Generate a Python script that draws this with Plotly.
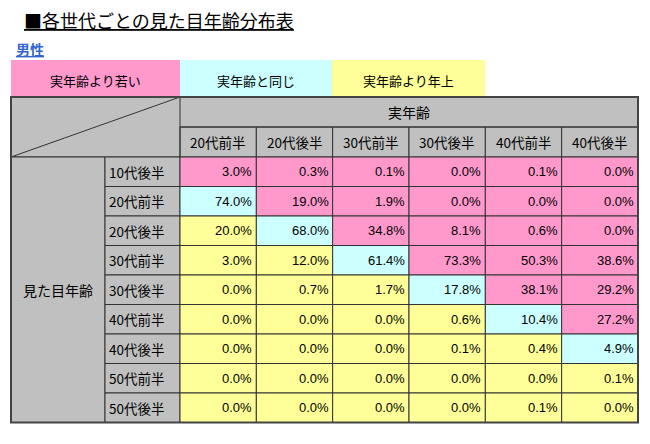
import plotly.graph_objects as go

# ---------------- data ----------------
title_text = "■各世代ごとの見た目年齢分布表"
subtitle_text = "男性"
legend_labels = ["実年齢より若い", "実年齢と同じ", "実年齢より年上"]
actual_age_header = "実年齢"
apparent_age_header = "見た目年齢"
actual_ages = ["20代前半", "20代後半", "30代前半", "30代後半", "40代前半", "40代後半"]
apparent_ages = ["10代後半", "20代前半", "20代後半", "30代前半", "30代後半",
                 "40代前半", "40代後半", "50代前半", "50代後半"]
# rows = apparent age, columns = actual age (percent)
values = [
    [3.0, 0.3, 0.1, 0.0, 0.1, 0.0],
    [74.0, 19.0, 1.9, 0.0, 0.0, 0.0],
    [20.0, 68.0, 34.8, 8.1, 0.6, 0.0],
    [3.0, 12.0, 61.4, 73.3, 50.3, 38.6],
    [0.0, 0.7, 1.7, 17.8, 38.1, 29.2],
    [0.0, 0.0, 0.0, 0.6, 10.4, 27.2],
    [0.0, 0.0, 0.0, 0.1, 0.4, 4.9],
    [0.0, 0.0, 0.0, 0.0, 0.0, 0.1],
    [0.0, 0.0, 0.0, 0.0, 0.1, 0.0],
]

# ---------------- style / layout ----------------
W, H = 650, 444
OFF = 8  # page body margin compensation
PINK, CYAN, YELLOW, GRAY = "#FF99CC", "#CCFFFF", "#FFFF99", "#C0C0C0"
LEG_COLORS = [PINK, CYAN, YELLOW]
LINE = "#333333"
JP = "Noto Sans CJK JP"
NUMF = "Liberation Sans, Arial, Noto Sans CJK JP"

LEG_EDGES = [11, 180, 332, 485]
LEG_TOP, LEG_BOT = 60, 97
X_LEFT, X_ROWLAB, X_DATA0 = 11, 105, 180
COL_W = (638 - 180) / 6
T_TOP, HDR1, HDR2 = 97, 127, 157
ROW_H = (422.5 - 157) / 9

col_edges = [X_DATA0 + COL_W * j for j in range(len(actual_ages) + 1)]
row_edges = [HDR2 + ROW_H * i for i in range(len(apparent_ages) + 1)]
X_RIGHT = col_edges[-1]
Y_BOT = row_edges[-1]

shapes = []
annots = []


def rect(x0, y0, x1, y1, fill, lw=1, lc=LINE):
    shapes.append(dict(type="rect", xref="x", yref="y", x0=x0, y0=y0, x1=x1, y1=y1,
                       fillcolor=fill, line=dict(color=lc, width=lw), layer="below"))


def line(x0, y0, x1, y1, lw=1, lc=LINE):
    shapes.append(dict(type="line", xref="x", yref="y", x0=x0, y0=y0, x1=x1, y1=y1,
                       line=dict(color=lc, width=lw)))


def text(x, y, s, size=13, anchor="center", fam=JP, color="black"):
    annots.append(dict(x=x, y=y, xref="x", yref="y", text=s, showarrow=False,
                       xanchor=anchor, yanchor="middle",
                       font=dict(family=fam, size=size, color=color)))


# title / subtitle
text(22, 20, "<u>" + title_text + "</u>", size=18, anchor="left")
text(14, 49, "<u><b>" + subtitle_text + "</b></u>", size=14, anchor="left", color="#3366CC")

# legend boxes
for k, lab in enumerate(legend_labels):
    rect(LEG_EDGES[k], LEG_TOP, LEG_EDGES[k + 1], LEG_BOT, LEG_COLORS[k], lw=0, lc=LEG_COLORS[k])
    text((LEG_EDGES[k] + LEG_EDGES[k + 1]) / 2, 80, lab, size=13)

# gray header areas
rect(X_LEFT, T_TOP, X_RIGHT, HDR2, GRAY)
rect(X_LEFT, HDR2, X_ROWLAB, Y_BOT, GRAY)
line(X_LEFT, HDR2, X_DATA0, T_TOP)  # diagonal
line(X_DATA0, T_TOP, X_DATA0, HDR2)
line(X_DATA0, HDR1, X_RIGHT, HDR1)
text((X_DATA0 + X_RIGHT) / 2, (T_TOP + HDR1) / 2, actual_age_header, size=14)
text((X_LEFT + X_ROWLAB) / 2, (HDR2 + Y_BOT) / 2, apparent_age_header, size=14)

# column headers
for j, lab in enumerate(actual_ages):
    rect(col_edges[j], HDR1, col_edges[j + 1], HDR2, GRAY)
    text((col_edges[j] + col_edges[j + 1]) / 2, (HDR1 + HDR2) / 2, lab, size=13.5)

# row headers and data cells
for i, lab in enumerate(apparent_ages):
    rect(X_ROWLAB, row_edges[i], X_DATA0, row_edges[i + 1], GRAY)
    text(X_ROWLAB + 2, (row_edges[i] + row_edges[i + 1]) / 2, lab, size=13.5, anchor="left")
    for j, v in enumerate(values[i]):
        actual_idx = j + 1
        if i < actual_idx:
            fill = PINK
        elif i == actual_idx:
            fill = CYAN
        else:
            fill = YELLOW
        rect(col_edges[j], row_edges[i], col_edges[j + 1], row_edges[i + 1], fill)
        text(col_edges[j + 1] - 2, (row_edges[i] + row_edges[i + 1]) / 2,
             f"{v:.1f}%", size=13, anchor="right", fam=NUMF)

# outer border
shapes.append(dict(type="rect", xref="x", yref="y", x0=X_LEFT, y0=T_TOP, x1=X_RIGHT, y1=Y_BOT,
                   fillcolor="rgba(0,0,0,0)", line=dict(color="#444444", width=2)))

fig = go.Figure()
fig.add_trace(go.Scatter(x=[OFF, W + OFF], y=[OFF, H + OFF], mode="markers",
                         marker=dict(opacity=0), hoverinfo="skip", showlegend=False))
fig.update_layout(
    width=W, height=H, margin=dict(l=0, r=0, t=0, b=0),
    paper_bgcolor="white", plot_bgcolor="white",
    xaxis=dict(range=[OFF, W + OFF], visible=False, fixedrange=True),
    yaxis=dict(range=[H + OFF, OFF], visible=False, fixedrange=True),
    shapes=shapes, annotations=annots, showlegend=False,
)
fig.write_html("out.html")
